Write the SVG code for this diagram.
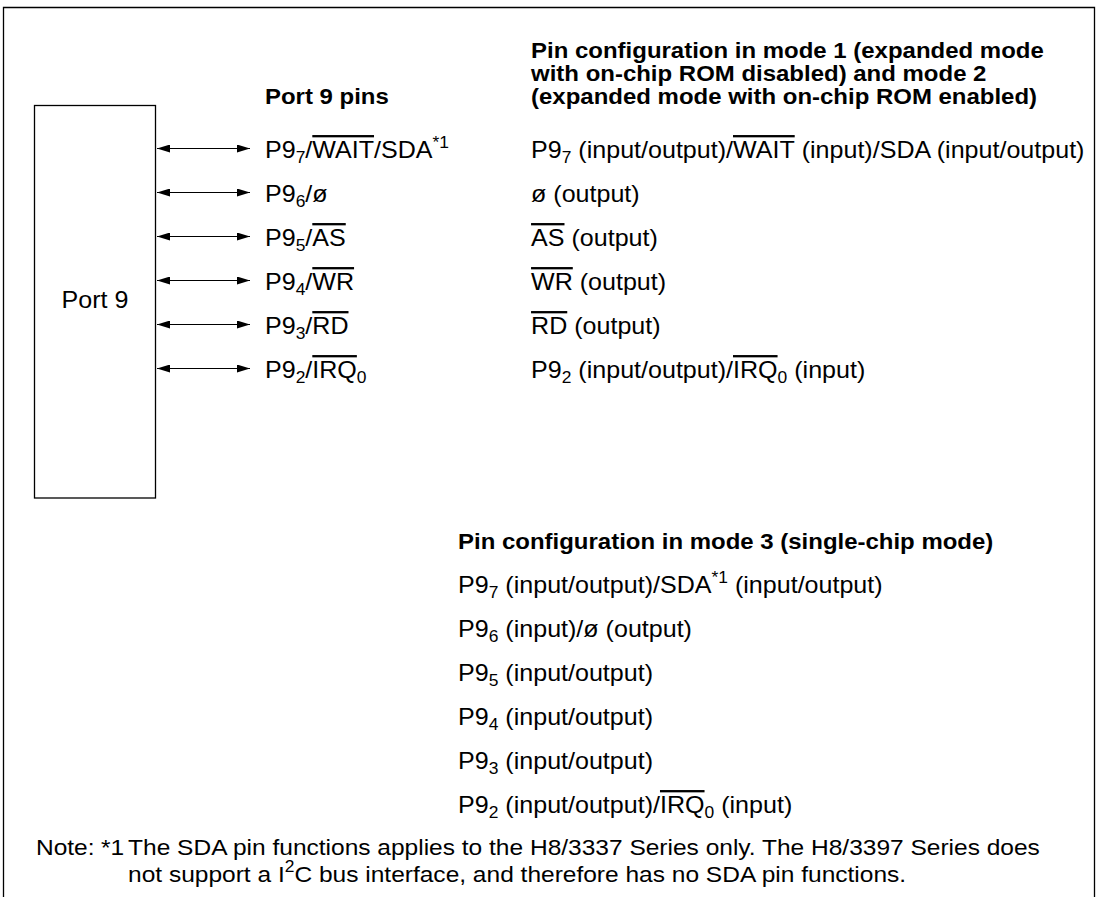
<svg xmlns="http://www.w3.org/2000/svg" width="1099" height="897" viewBox="0 0 1099 897">
<style>
  text { font-family: "Liberation Sans", Arial, Helvetica, sans-serif; font-size: 23px; fill: #000; }
  .b { font-weight: bold; font-size: 22px; }
  .ol { text-decoration: overline; }
  .s { font-size: 16px; }
  .n { font-size: 22.5px; }
  .line { stroke: #000; stroke-width: 1.3; fill: none; }
  .conn { stroke: #000; stroke-width: 1.2; fill: none; marker-start: url(#ah); marker-end: url(#ah); }
</style>
<defs>
  <marker id="ah" viewBox="0 0 13 8" refX="13" refY="4" markerWidth="13" markerHeight="8" markerUnits="userSpaceOnUse" orient="auto-start-reverse">
    <path d="M0,0 L13,4 L0,8 Z" fill="#000"/>
  </marker>
</defs>
<rect width="1099" height="897" fill="#fff"/>
<path class="line" d="M3.5,897 V7.5 H1094.5 V897"/>

<g id="port9">
  <rect class="line" x="34.5" y="105.5" width="121" height="392.5" fill="#fff"/>
  <text transform="scale(1.09 1)" x="87.2" y="308" text-anchor="middle">Port 9</text>
</g>

<g id="connectors">
  <line class="conn" x1="157" y1="148.5" x2="250" y2="148.5"/>
  <line class="conn" x1="157" y1="192.5" x2="250" y2="192.5"/>
  <line class="conn" x1="157" y1="236.5" x2="250" y2="236.5"/>
  <line class="conn" x1="157" y1="280.5" x2="250" y2="280.5"/>
  <line class="conn" x1="157" y1="324.5" x2="250" y2="324.5"/>
  <line class="conn" x1="157" y1="368.5" x2="250" y2="368.5"/>
</g>

<g id="pins" transform="scale(1.09 1)">
  <text class="b" x="243.1" y="104">Port 9 pins</text>
  <text x="243.1" y="158">P9<tspan class="s" dy="5.5">7</tspan><tspan dy="-5.5">/</tspan><tspan class="ol">WAIT</tspan>/SDA<tspan class="s" dy="-9.5">*1</tspan></text>
  <text x="243.1" y="202">P9<tspan class="s" dy="5.5">6</tspan><tspan dy="-5.5">/ø</tspan></text>
  <text x="243.1" y="246">P9<tspan class="s" dy="5.5">5</tspan><tspan dy="-5.5">/</tspan><tspan class="ol">AS</tspan></text>
  <text x="243.1" y="290">P9<tspan class="s" dy="5.5">4</tspan><tspan dy="-5.5">/</tspan><tspan class="ol">WR</tspan></text>
  <text x="243.1" y="334">P9<tspan class="s" dy="5.5">3</tspan><tspan dy="-5.5">/</tspan><tspan class="ol">RD</tspan></text>
  <text x="243.1" y="378">P9<tspan class="s" dy="5.5">2</tspan><tspan dy="-5.5">/</tspan><tspan class="ol">IRQ</tspan><tspan class="s" dy="5.5">0</tspan></text>
</g>

<g id="mode12" transform="scale(1.09 1)">
  <text class="b" x="487.2" y="58">Pin configuration in mode 1 (expanded mode</text>
  <text class="b" x="487.2" y="81">with on-chip ROM disabled) and mode 2</text>
  <text class="b" x="487.2" y="104">(expanded mode with on-chip ROM enabled)</text>
  <text x="487.2" y="158">P9<tspan class="s" dy="5.5">7</tspan><tspan dy="-5.5"> (input/output)/</tspan><tspan class="ol">WAIT</tspan> (input)/SDA (input/output)</text>
  <text x="487.2" y="202">ø (output)</text>
  <text x="487.2" y="246"><tspan class="ol">AS</tspan> (output)</text>
  <text x="487.2" y="290"><tspan class="ol">WR</tspan> (output)</text>
  <text x="487.2" y="334"><tspan class="ol">RD</tspan> (output)</text>
  <text x="487.2" y="378">P9<tspan class="s" dy="5.5">2</tspan><tspan dy="-5.5"> (input/output)/</tspan><tspan class="ol">IRQ</tspan><tspan class="s" dy="5.5">0</tspan><tspan dy="-5.5"> (input)</tspan></text>
</g>

<g id="mode3" transform="scale(1.09 1)">
  <text class="b" x="420.2" y="549">Pin configuration in mode 3 (single-chip mode)</text>
  <text x="420.2" y="593">P9<tspan class="s" dy="5.5">7</tspan><tspan dy="-5.5"> (input/output)/SDA</tspan><tspan class="s" dy="-9.5">*1</tspan><tspan dy="9.5"> (input/output)</tspan></text>
  <text x="420.2" y="637">P9<tspan class="s" dy="5.5">6</tspan><tspan dy="-5.5"> (input)/ø (output)</tspan></text>
  <text x="420.2" y="681">P9<tspan class="s" dy="5.5">5</tspan><tspan dy="-5.5"> (input/output)</tspan></text>
  <text x="420.2" y="725">P9<tspan class="s" dy="5.5">4</tspan><tspan dy="-5.5"> (input/output)</tspan></text>
  <text x="420.2" y="769">P9<tspan class="s" dy="5.5">3</tspan><tspan dy="-5.5"> (input/output)</tspan></text>
  <text x="420.2" y="813">P9<tspan class="s" dy="5.5">2</tspan><tspan dy="-5.5"> (input/output)/</tspan><tspan class="ol">IRQ</tspan><tspan class="s" dy="5.5">0</tspan><tspan dy="-5.5"> (input)</tspan></text>
</g>

<g id="note" transform="scale(1.09 1)">
  <text class="n" x="33" y="855">Note:</text>
  <text class="n" x="92.7" y="855">*1</text>
  <text class="n" x="117.5" y="855">The SDA pin functions applies to the H8/3337 Series only. The H8/3397 Series does</text>
  <text class="n" x="117.5" y="882">not support a I<tspan class="s" dy="-9.5">2</tspan><tspan dy="9.5">C bus interface, and therefore has no SDA pin functions.</tspan></text>
</g>
</svg>
